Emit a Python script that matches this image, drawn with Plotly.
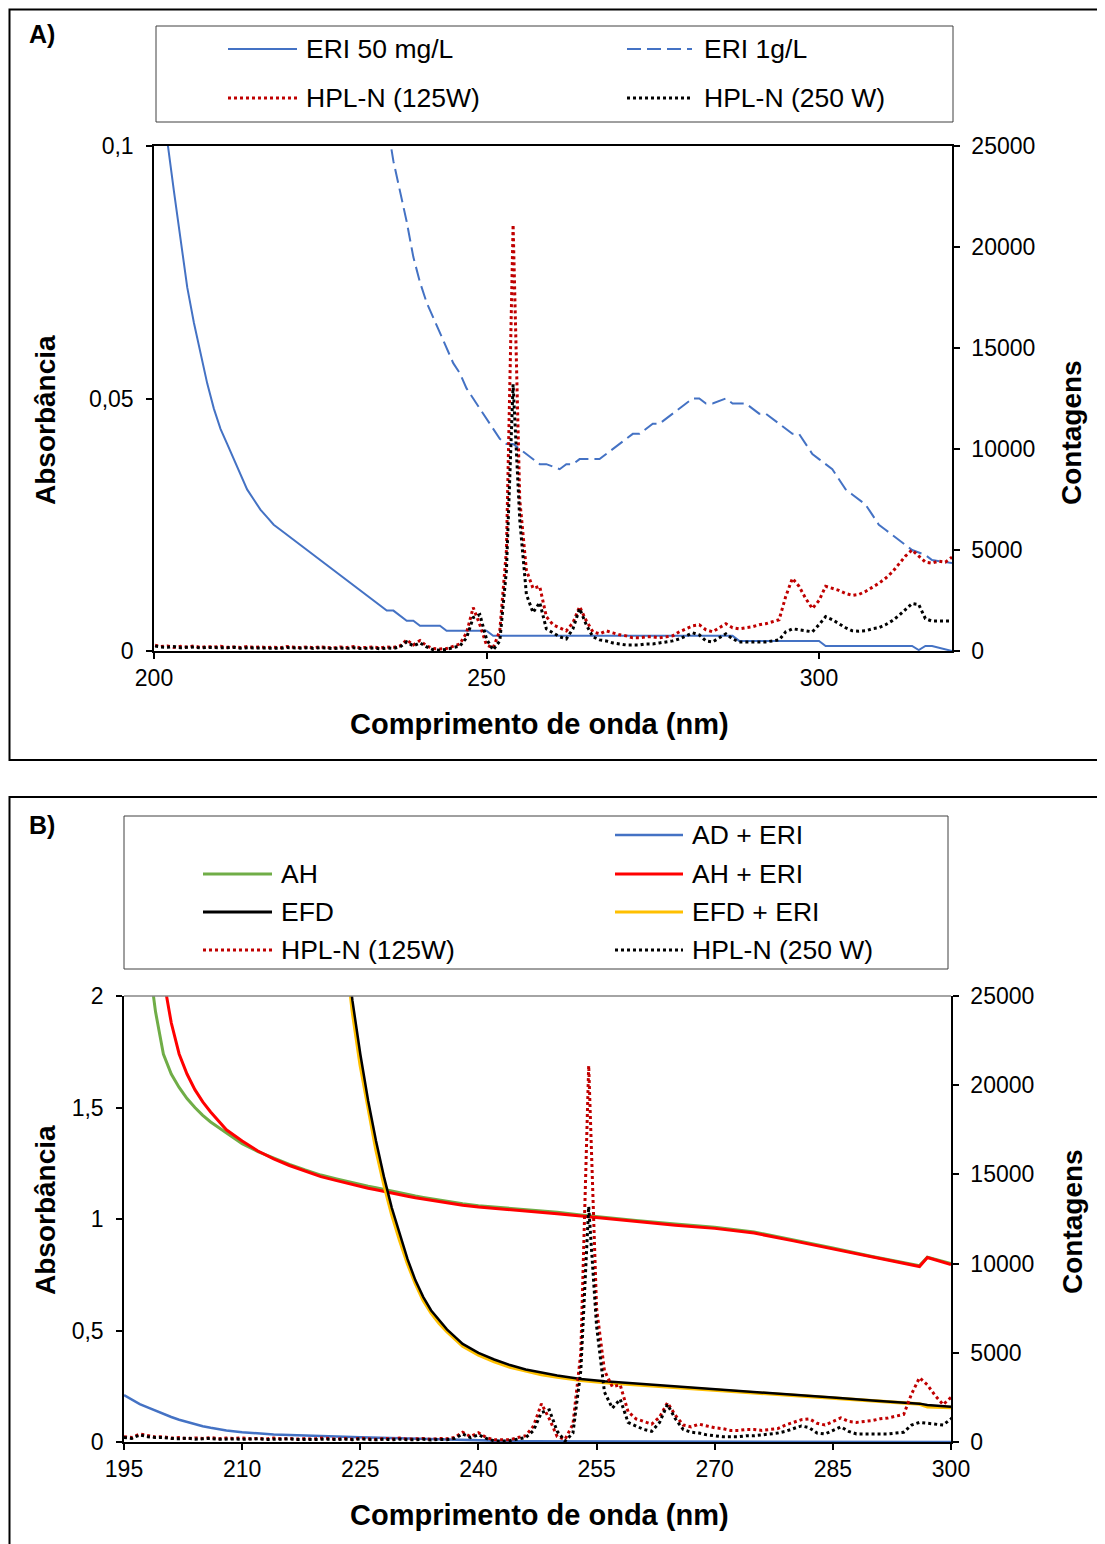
#%%
import plotly.graph_objects as go

# %%
# lamp emission spectra (counts), 1 nm steps 195-320 nm
wl_lamp = list(range(195, 321))
hpl_125 = [300, 250, 450, 350, 280, 300, 220, 250, 180, 230,
           200, 250, 180, 220, 200, 230, 180, 200, 170, 220,
           180, 200, 170, 190, 160, 220, 180, 170, 200, 160,
           210, 170, 150, 200, 170, 220, 160, 180, 200, 150,
           200, 180, 250, 550, 300, 520, 250, 120, 100, 120,
           250, 350, 900, 2150, 1300, 300, 150, 1000, 5000, 21100,
           7500, 4000, 3100, 3200, 1700, 1300, 1150, 1000, 1400, 2200,
           1500, 950, 850, 1000, 900, 800, 750, 650, 650, 700,
           700, 650, 700, 750, 950, 1100, 1250, 1300, 1050, 950,
           1150, 1350, 1150, 1100, 1150, 1200, 1300, 1350, 1450, 1550,
           2700, 3600, 3200, 2600, 2100, 2500, 3200, 3100, 3000, 2850,
           2750, 2800, 2950, 3150, 3350, 3600, 3900, 4300, 4700, 5000,
           4700, 4400, 4350, 4450, 4400, 4650]
hpl_250 = [250, 200, 400, 300, 250, 250, 200, 180, 220, 160,
           180, 200, 150, 180, 170, 150, 160, 180, 140, 160,
           150, 170, 140, 150, 130, 170, 150, 140, 160, 130,
           170, 140, 120, 150, 130, 160, 120, 130, 150, 110,
           150, 130, 200, 450, 250, 400, 200, 60, 40, 80,
           150, 250, 650, 1650, 1800, 600, 50, 500, 4000, 13200,
           6500, 2800, 1900, 2400, 1100, 900, 700, 600, 1100, 2100,
           1300, 700, 550, 500, 400, 350, 300, 300, 300, 350,
           350, 400, 450, 500, 600, 750, 900, 800, 500, 450,
           650, 850, 600, 450, 450, 450, 450, 450, 500, 550,
           950, 1100, 1050, 1000, 950, 1300, 1700, 1550, 1350, 1150,
           1000, 980, 1000, 1100, 1150, 1300, 1500, 1750, 2050, 2350,
           2300, 1600, 1480, 1480, 1480, 1480]

# panel A absorbance
wl_eri50 = list(range(200, 321))
eri_50 = [0.122, 0.111, 0.101, 0.091, 0.082, 0.072, 0.065, 0.059, 0.053, 0.048,
          0.044, 0.041, 0.038, 0.035, 0.032, 0.030, 0.028, 0.0265, 0.025, 0.024,
          0.023, 0.022, 0.021, 0.020, 0.019, 0.018, 0.017, 0.016, 0.015, 0.014,
          0.013, 0.012, 0.011, 0.010, 0.009, 0.008, 0.008, 0.007, 0.006, 0.006,
          0.005, 0.005, 0.005, 0.005, 0.004, 0.004, 0.004, 0.004, 0.004, 0.004,
          0.004, 0.003, 0.003, 0.003, 0.003, 0.003, 0.003, 0.003, 0.003, 0.003,
          0.003, 0.003, 0.003, 0.003, 0.003, 0.003, 0.003, 0.003, 0.003, 0.003,
          0.003, 0.003, 0.003, 0.003, 0.003, 0.003, 0.003, 0.003, 0.003, 0.003,
          0.003, 0.003, 0.003, 0.003, 0.003, 0.003, 0.003, 0.003, 0.002, 0.002,
          0.002, 0.002, 0.002, 0.002, 0.002, 0.002, 0.002, 0.002, 0.002, 0.002,
          0.002, 0.001, 0.001, 0.001, 0.001, 0.001, 0.001, 0.001, 0.001, 0.001,
          0.001, 0.001, 0.001, 0.001, 0.001, 0.0002, 0.001, 0.001, 0.0007, 0.0003,
          0.0]
wl_eri1g = list(range(234, 321))
eri_1g = [0.115, 0.105, 0.097, 0.091, 0.085, 0.078, 0.073, 0.069, 0.066, 0.063,
          0.060, 0.057, 0.055, 0.052, 0.050, 0.048, 0.046, 0.044, 0.042, 0.041,
          0.041, 0.040, 0.039, 0.038, 0.037, 0.037, 0.0365, 0.036, 0.037, 0.037,
          0.038, 0.038, 0.038, 0.038, 0.039, 0.040, 0.041, 0.042, 0.043, 0.043,
          0.044, 0.045, 0.045, 0.046, 0.047, 0.048, 0.049, 0.050, 0.050, 0.049,
          0.049, 0.0495, 0.050, 0.049, 0.049, 0.049, 0.048, 0.047, 0.047, 0.046,
          0.045, 0.044, 0.043, 0.043, 0.041, 0.039, 0.038, 0.037, 0.036, 0.034,
          0.032, 0.031, 0.030, 0.029, 0.027, 0.025, 0.024, 0.023, 0.022, 0.021,
          0.020, 0.0195, 0.019, 0.018, 0.0178, 0.0176, 0.0174]

# panel B absorbance
wl_b = [195, 196, 197, 198, 199, 200, 201, 202, 203, 204, 205, 206,
        208, 210, 212, 214, 216, 218, 220, 222,
        223, 224, 225, 226, 227, 228, 229, 230, 231, 232, 233, 234, 235, 236,
        238, 240, 242, 244, 246, 248, 250,
        253, 256, 260, 265, 270, 275, 280, 285, 290, 294, 296, 297, 300]
ad_eri = [0.21, 0.19, 0.17, 0.155, 0.14, 0.125, 0.112, 0.10, 0.09, 0.08, 0.071, 0.064,
          0.052, 0.044, 0.038, 0.034, 0.031, 0.028, 0.026, 0.024,
          0.023, 0.022, 0.021, 0.020, 0.019, 0.018, 0.017, 0.016, 0.015, 0.013, 0.012, 0.011, 0.010, 0.009,
          0.008, 0.006, 0.005, 0.004, 0.003, 0.003, 0.002,
          0.002, 0.001, 0.001, 0, 0, 0, 0, 0, 0, 0, 0, 0, 0]
ah = [3.5, 3.0, 2.6, 2.2, 1.93, 1.74, 1.65, 1.59, 1.54, 1.50, 1.465, 1.435,
      1.385, 1.338, 1.302, 1.272, 1.245, 1.22, 1.197, 1.18,
      1.171, 1.163, 1.155, 1.147, 1.14, 1.132, 1.124, 1.117, 1.11, 1.103, 1.097, 1.091, 1.085, 1.079,
      1.068, 1.06, 1.054, 1.05, 1.045, 1.037, 1.03,
      1.018, 1.007, 0.993, 0.978, 0.963, 0.942, 0.907, 0.87, 0.832, 0.803, 0.791, 0.829, 0.80]
ah_eri = [4.5, 3.8, 3.2, 2.7, 2.35, 2.08, 1.88, 1.74, 1.65, 1.58, 1.525, 1.48,
          1.40, 1.35, 1.305, 1.27, 1.24, 1.215, 1.19, 1.172,
          1.163, 1.154, 1.146, 1.138, 1.131, 1.123, 1.116, 1.109, 1.102, 1.095, 1.089, 1.083, 1.077, 1.072,
          1.062, 1.054, 1.048, 1.043, 1.038, 1.031, 1.024,
          1.013, 1.002, 0.987, 0.972, 0.958, 0.937, 0.902, 0.866, 0.828, 0.799, 0.787, 0.827, 0.796]
efd = [None, None, None, None, None, None, None, None, None, None, None, None,
       None, None, None, None, None, None, 3.5, 2.8,
       2.3, 1.98, 1.74, 1.53, 1.35, 1.19, 1.05, 0.93, 0.82, 0.725, 0.65, 0.59, 0.545, 0.505,
       0.44, 0.40, 0.37, 0.345, 0.325, 0.31, 0.298,
       0.283, 0.272, 0.262, 0.25, 0.238, 0.226, 0.213, 0.199, 0.186, 0.176, 0.172, 0.166, 0.158]
efd_eri = [None, None, None, None, None, None, None, None, None, None, None, None,
           None, None, None, None, None, None, 3.4, 2.7,
           2.25, 1.93, 1.69, 1.49, 1.31, 1.155, 1.02, 0.905, 0.80, 0.71, 0.635, 0.578, 0.533, 0.495,
           0.43, 0.39, 0.36, 0.336, 0.317, 0.302, 0.291,
           0.277, 0.267, 0.257, 0.246, 0.234, 0.223, 0.21, 0.197, 0.184, 0.175, 0.17, 0.158, 0.155]

# ticks
xa_ticks = [200, 250, 300]
ya_ticks = [0, 0.05, 0.1]
ya_text = ["0", "0,05", "0,1"]
xb_ticks = [195, 210, 225, 240, 255, 270, 285, 300]
yb_ticks = [0, 0.5, 1, 1.5, 2]
yb_text = ["0", "0,5", "1", "1,5", "2"]
cnt_ticks = [0, 5000, 10000, 15000, 20000, 25000]

# %%
W, H = 1105, 1544
OFF = 8  # page body margin
FONT = "Arial, 'Liberation Sans', sans-serif"
BLUE, GREEN, RED, ORANGE, DRED = "#4472C4", "#70AD47", "#FF0000", "#FFC000", "#C00000"


def fx(p):
    return (p - OFF) / W


def fy(p):
    return 1 - (p - OFF) / H


fig = go.Figure()

# panel A
fig.add_trace(go.Scatter(x=wl_eri50, y=eri_50, mode="lines", line=dict(color=BLUE, width=2),
                         xaxis="x", yaxis="y", name="ERI 50 mg/L"))
fig.add_trace(go.Scatter(x=wl_eri1g, y=eri_1g, mode="lines", line=dict(color=BLUE, width=2, dash="14px,6px"),
                         xaxis="x", yaxis="y", name="ERI 1g/L"))
fig.add_trace(go.Scatter(x=wl_lamp, y=hpl_125, mode="lines", line=dict(color=DRED, width=3, dash="dot"),
                         xaxis="x", yaxis="y2", name="HPL-N (125W)"))
fig.add_trace(go.Scatter(x=wl_lamp, y=hpl_250, mode="lines", line=dict(color="black", width=3, dash="dot"),
                         xaxis="x", yaxis="y2", name="HPL-N (250 W)"))

# panel B
fig.add_trace(go.Scatter(x=wl_b, y=ad_eri, mode="lines", line=dict(color=BLUE, width=2.5),
                         xaxis="x2", yaxis="y3", name="AD + ERI"))
fig.add_trace(go.Scatter(x=wl_b, y=ah, mode="lines", line=dict(color=GREEN, width=3),
                         xaxis="x2", yaxis="y3", name="AH"))
fig.add_trace(go.Scatter(x=wl_b, y=ah_eri, mode="lines", line=dict(color=RED, width=3),
                         xaxis="x2", yaxis="y3", name="AH + ERI"))
fig.add_trace(go.Scatter(x=wl_b, y=efd_eri, mode="lines", line=dict(color=ORANGE, width=3.5),
                         xaxis="x2", yaxis="y3", name="EFD + ERI"))
fig.add_trace(go.Scatter(x=wl_b, y=efd, mode="lines", line=dict(color="black", width=2.5),
                         xaxis="x2", yaxis="y3", name="EFD"))
fig.add_trace(go.Scatter(x=wl_lamp, y=hpl_125, mode="lines", line=dict(color=DRED, width=3, dash="dot"),
                         xaxis="x2", yaxis="y4", name="HPL-N (125W)"))
fig.add_trace(go.Scatter(x=wl_lamp, y=hpl_250, mode="lines", line=dict(color="black", width=3, dash="dot"),
                         xaxis="x2", yaxis="y4", name="HPL-N (250 W)"))

axis_common = dict(showgrid=False, zeroline=False, showline=True, linecolor="black", linewidth=1.5,
                   ticks="outside", ticklen=6, tickwidth=1.5, tickcolor="black", automargin=False,
                   tickfont=dict(family=FONT, size=23, color="black"), tickmode="array")

fig.update_layout(
    width=W, height=H, margin=dict(l=0, r=0, t=0, b=0),
    paper_bgcolor="white", plot_bgcolor="white", showlegend=False,
    font=dict(family=FONT, color="black"),
    xaxis=dict(axis_common, domain=[fx(154), fx(952)], anchor="y", range=[200, 320],
               tickvals=xa_ticks, ticktext=[str(v) for v in xa_ticks], mirror=True),
    yaxis=dict(axis_common, domain=[fy(651), fy(146)], anchor="x", range=[0, 0.1],
               tickvals=ya_ticks, ticktext=ya_text, ticklabelstandoff=8),
    yaxis2=dict(axis_common, overlaying="y", side="right", anchor="x", range=[0, 25000],
                tickvals=cnt_ticks, ticktext=[str(v) for v in cnt_ticks], ticklabelstandoff=7),
    xaxis2=dict(axis_common, domain=[fx(124), fx(951)], anchor="y3", range=[195, 300],
                tickvals=xb_ticks, ticktext=[str(v) for v in xb_ticks]),
    yaxis3=dict(axis_common, domain=[fy(1442), fy(996)], anchor="x2", range=[0, 2],
                tickvals=yb_ticks, ticktext=yb_text, ticklabelstandoff=8),
    yaxis4=dict(axis_common, overlaying="y3", side="right", anchor="x2", range=[0, 25000],
                tickvals=cnt_ticks, ticktext=[str(v) for v in cnt_ticks], ticklabelstandoff=7),
)

shapes = [
    # panel frames (left/top edges kept just inside the page)
    dict(type="rect", xref="paper", yref="paper", x0=fx(9.5), x1=fx(1125), y0=fy(9.5), y1=fy(760),
         line=dict(color="black", width=2)),
    dict(type="rect", xref="paper", yref="paper", x0=fx(9.5), x1=fx(1125), y0=fy(797), y1=fy(1565),
         line=dict(color="black", width=2)),
    # legend boxes
    dict(type="rect", xref="paper", yref="paper", x0=fx(156), x1=fx(953), y0=fy(26), y1=fy(122),
         line=dict(color="#404040", width=1)),
    dict(type="rect", xref="paper", yref="paper", x0=fx(124), x1=fx(948), y0=fy(816), y1=fy(969),
         line=dict(color="#404040", width=1)),
    # top border of plot B
    dict(type="line", xref="x2 domain", yref="y3 domain", x0=0, x1=1, y0=1, y1=1,
         line=dict(color="#868686", width=1.5)),
]

annotations = [
    dict(text="<b>A)</b>", x=fx(27), y=fy(34), xanchor="left", font=dict(size=25)),
    dict(text="<b>B)</b>", x=fx(27), y=fy(825), xanchor="left", font=dict(size=25)),
    dict(text="<b>Comprimento de onda (nm)</b>", x=fx(539), y=fy(724), font=dict(size=29)),
    dict(text="<b>Absorbância</b>", x=fx(45), y=fy(420), textangle=-90, font=dict(size=28)),
    dict(text="<b>Contagens</b>", x=fx(1072), y=fy(433), textangle=-90, font=dict(size=28)),
    dict(text="<b>Comprimento de onda (nm)</b>", x=fx(539), y=fy(1515), font=dict(size=29)),
    dict(text="<b>Absorbância</b>", x=fx(45), y=fy(1210), textangle=-90, font=dict(size=28)),
    dict(text="<b>Contagens</b>", x=fx(1072), y=fy(1222), textangle=-90, font=dict(size=28)),
]

legend_items = [
    # (x0, x1, y, text x, label, color, width, dash)
    (228, 297, 49, 304, "ERI 50 mg/L", BLUE, 2, "solid"),
    (627, 692, 49, 702, "ERI 1g/L", BLUE, 2, "14px,6px"),
    (228, 297, 98, 304, "HPL-N (125W)", DRED, 3, "dot"),
    (627, 692, 98, 702, "HPL-N (250 W)", "black", 3, "dot"),
    (615, 683, 835, 690, "AD + ERI", BLUE, 2.5, "solid"),
    (203, 272, 874, 279, "AH", GREEN, 3, "solid"),
    (615, 683, 874, 690, "AH + ERI", RED, 3, "solid"),
    (203, 272, 912, 279, "EFD", "black", 3, "solid"),
    (615, 683, 912, 690, "EFD + ERI", ORANGE, 3, "solid"),
    (203, 272, 950, 279, "HPL-N (125W)", DRED, 3, "dot"),
    (615, 683, 950, 690, "HPL-N (250 W)", "black", 3, "dot"),
]
for x0, x1, y, tx, label, color, width, dash in legend_items:
    shapes.append(dict(type="line", xref="paper", yref="paper", x0=fx(x0), x1=fx(x1), y0=fy(y), y1=fy(y),
                       line=dict(color=color, width=width, dash=dash)))
    annotations.append(dict(text=label, x=fx(tx), y=fy(y), xanchor="left",
                            font=dict(size=26.5)))

for a in annotations:
    a.setdefault("xanchor", "center")
    a.update(xref="paper", yref="paper", yanchor="middle", showarrow=False)
    a["font"].update(family=FONT, color="black")

fig.update_layout(shapes=shapes, annotations=annotations)

# %%
fig.write_html("out.html")
